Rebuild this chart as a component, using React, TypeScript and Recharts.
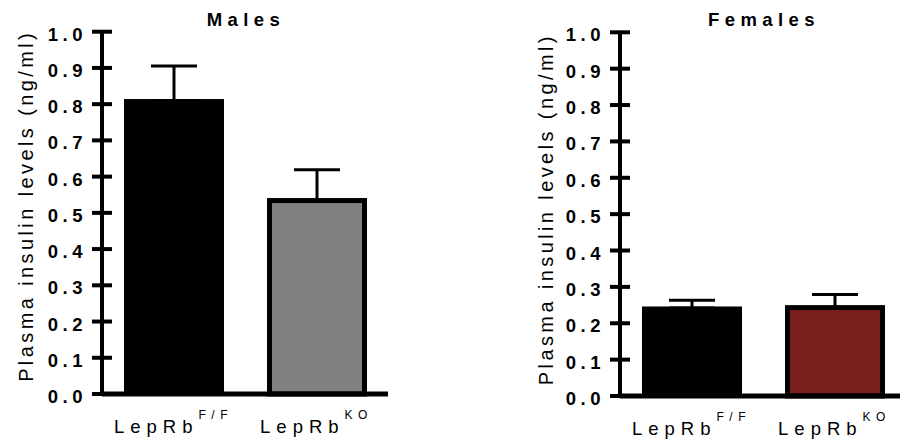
import React from 'react';
import { BarChart, Bar, XAxis, YAxis, ErrorBar, Cell, Label } from 'recharts';

// group names (shown as superscripts after "LepRb")
const groups = ['F/F', 'KO'];

// plasma insulin, ng/ml, mean and SEM
const malesMean = [0.81, 0.534];
const malesSem = [0.095, 0.085];
const femalesMean = [0.242, 0.243];
const femalesSem = [0.021, 0.036];

const malesFill = ['#000000', '#808080'];
const femalesFill = ['#000000', '#7b1f1e'];
const outlineWidth = [3, 5];

const yTicks = [0, 0.1, 0.2, 0.3, 0.4, 0.5, 0.6, 0.7, 0.8, 0.9, 1.0];

const FONT = '"Liberation Sans", Arial, sans-serif';

const YTick = (props: any) => {
  const { x, y, payload } = props;
  return (
    <g>
      <line x1={x - 10} x2={x + 10} y1={y} y2={y} stroke="#000" strokeWidth={4} />
      <text
        x={x - 15}
        y={y}
        dy={9}
        textAnchor="end"
        fontFamily={FONT}
        fontWeight="bold"
        fontSize={18.5}
        letterSpacing={4.5}
        fill="#000"
      >
        {Number(payload.value).toFixed(1)}
      </text>
    </g>
  );
};

const XTick = (props: any) => {
  const { x, y, payload } = props;
  return (
    <text
      x={x}
      y={y + 39}
      textAnchor="middle"
      fontFamily={FONT}
      fontSize={18.5}
      letterSpacing={6}
      fill="#000"
    >
      LepRb
      <tspan dy={-14} fontSize={12} letterSpacing={5.5}>
        {payload.value}
      </tspan>
    </text>
  );
};

const BarShape = (props: any) => {
  const { x, y, width, height, fill, index } = props;
  const sw = outlineWidth[index] ?? 0;
  return (
    <rect
      x={x + sw / 2}
      y={y}
      width={width - sw}
      height={height}
      fill={fill}
      stroke="#000"
      strokeWidth={sw}
    />
  );
};

interface PanelProps {
  title: string;
  means: number[];
  sems: number[];
  fills: string[];
  left: number;
  top: number;
  xAxisHeight: number;
  labelX: number;
  labelDy: number;
}

function Panel({ title, means, sems, fills, left, top, xAxisHeight, labelX, labelDy }: PanelProps) {
  const data = groups.map((g, i) => ({ group: g, mean: means[i], err: [0, sems[i]] }));
  return (
    <div style={{ position: 'absolute', left, top: 0, width: 400, height: 441 }}>
      <div
        style={{
          position: 'absolute',
          left: 102,
          width: 288,
          top: 10.3,
          textAlign: 'center',
          fontFamily: FONT,
          fontWeight: 'bold',
          fontSize: 18.5,
          letterSpacing: 5.4,
          lineHeight: '20px',
          whiteSpace: 'nowrap',
        }}
      >
        {title}
      </div>
      <BarChart
        width={400}
        height={441}
        data={data}
        margin={{ top, right: 12, bottom: 0, left: 0 }}
        barSize={100}
      >
        <XAxis
          dataKey="group"
          height={xAxisHeight}
          tickLine={false}
          tickSize={0}
          tickMargin={0}
          axisLine={{ stroke: '#000', strokeWidth: 5 }}
          tick={<XTick />}
          interval={0}
        />
        <YAxis
          width={102}
          domain={[0, 1]}
          ticks={yTicks}
          interval={0}
          tickLine={false}
          tickSize={0}
          tickMargin={0}
          axisLine={{ stroke: '#000', strokeWidth: 4 }}
          tick={<YTick />}
        >
          <Label
            content={({ viewBox }: any) => (
              <text
                transform={`translate(${viewBox.x + labelX}, ${viewBox.y + viewBox.height / 2 + labelDy}) rotate(-90)`}
                textAnchor="middle"
                fontFamily={FONT}
                fontSize={20}
                letterSpacing={3.4}
                fill="#000"
              >
                Plasma insulin levels (ng/ml)
              </text>
            )}
          />
        </YAxis>
        <Bar dataKey="mean" isAnimationActive={false} shape={<BarShape />}>
          {data.map((d, i) => (
            <Cell key={d.group} fill={fills[i]} />
          ))}
          <ErrorBar dataKey="err" direction="y" width={23} stroke="#000" strokeWidth={3} />
        </Bar>
      </BarChart>
    </div>
  );
}

export default function App() {
  return (
    <div
      style={{
        position: 'absolute',
        left: 0,
        top: 0,
        width: 900,
        height: 441,
        overflow: 'hidden',
        background: '#fff',
      }}
    >
      <Panel
        title="Males"
        means={malesMean}
        sems={malesSem}
        fills={malesFill}
        left={0}
        top={31.7}
        xAxisHeight={47}
        labelX={33}
        labelDy={-7}
      />
      <Panel
        title="Females"
        means={femalesMean}
        sems={femalesSem}
        fills={femalesFill}
        left={518}
        top={32.3}
        xAxisHeight={45}
        labelX={35}
        labelDy={-5}
      />
    </div>
  );
}
